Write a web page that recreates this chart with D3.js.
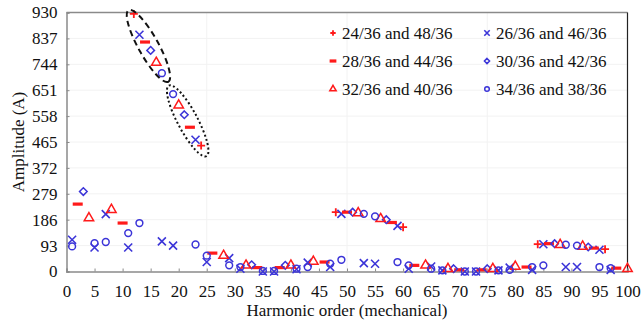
<!DOCTYPE html>
<html>
<head>
<meta charset="utf-8">
<script src="https://cdn.jsdelivr.net/npm/d3@7"></script>
<style>
  body { margin: 0; background: #fff; }
  svg text { font-family: "Liberation Serif", "Times New Roman", Times, "DejaVu Serif", serif; }
</style>
</head>
<body>
<div id="chart"></div>
<script>
// tick values
const yTicks = [0, 93, 186, 279, 372, 465, 558, 651, 744, 837, 930]
const xTicks = d3.range(0, 101, 5)

// [harmonic order, amplitude] for each pair of slot ratios
const s24_48 = [[12, 925], [24, 452], [48, 213], [60, 159], [84, 98], [96, 80]]
const s26_46 = [[1, 114], [5, 86], [7, 206], [11, 86], [13, 850], [17, 108], [19, 93], [23, 473],
  [25, 34], [29, 48], [31, 10], [35, 0], [37, 0], [41, 8], [43, 32], [47, 16], [49, 207],
  [53, 30], [55, 28], [59, 164], [61, 10], [65, 18], [67, 4], [71, 0], [73, 0], [77, 4],
  [79, 14], [83, 6], [85, 98], [89, 16], [91, 16], [95, 78], [97, 6]]
const s28_44 = [[2, 242], [10, 174], [14, 824], [22, 518], [26, 66], [34, 14], [38, 14], [46, 34],
  [50, 213], [58, 176], [62, 22], [70, 6], [74, 6], [82, 16], [86, 100], [94, 84], [98, 12]]
const s30_42 = [[3, 287], [15, 794], [21, 563], [33, 24], [39, 22], [51, 213], [57, 186],
  [69, 10], [75, 10], [87, 100], [93, 88]]
const s32_40 = [[4, 192], [8, 222], [16, 750], [20, 597], [28, 57], [32, 22], [40, 22], [44, 36],
  [52, 210], [56, 189], [64, 22], [68, 10], [76, 10], [80, 18], [88, 96], [92, 90], [100, 10]]
const s34_38 = [[1, 90], [5, 102], [7, 106], [11, 138], [13, 174], [17, 712], [19, 637], [23, 97],
  [25, 57], [29, 22], [31, 16], [35, 2], [37, 2], [41, 10], [43, 16], [47, 28], [49, 42],
  [53, 207], [55, 198], [59, 34], [61, 22], [65, 10], [67, 4], [71, 0], [73, 0], [77, 4],
  [79, 6], [83, 16], [85, 22], [89, 96], [91, 93], [95, 16], [97, 12]]

const RED = '#ff1a1a'
const BLUE = '#3b34d8'
const FONT = '"Liberation Serif", "Times New Roman", Times, "DejaVu Serif", serif'

const series = [
  { name: '24/36 and 48/36', data: s24_48, shape: 'plus', color: RED },
  { name: '26/36 and 46/36', data: s26_46, shape: 'cross', color: BLUE },
  { name: '28/36 and 44/36', data: s28_44, shape: 'dash', color: RED },
  { name: '30/36 and 42/36', data: s30_42, shape: 'diamond', color: BLUE },
  { name: '32/36 and 40/36', data: s32_40, shape: 'triangle', color: RED },
  { name: '34/36 and 38/36', data: s34_38, shape: 'circle', color: BLUE },
]

const W = 641, H = 325
const mLeft = 66.5, mRight = 627.5, mTop = 12.5, mBottom = 271.5

const svg = d3.select('#chart').append('svg')
  .attr('width', W).attr('height', H)
  .attr('font-family', FONT)

const x = d3.scaleLinear().domain([0, 100]).range([mLeft, mRight])
const y = d3.scaleLinear().domain([0, 930]).range([mBottom, mTop])

// faint grid
svg.append('g').selectAll('line').data(yTicks.slice(1, -1)).enter().append('line')
  .attr('x1', mLeft).attr('x2', mRight)
  .attr('y1', d => y(d)).attr('y2', d => y(d))
  .attr('stroke', '#f2f2f2')
svg.append('g').selectAll('line').data([25, 50, 75]).enter().append('line')
  .attr('y1', mTop).attr('y2', mBottom)
  .attr('x1', d => x(d)).attr('x2', d => x(d))
  .attr('stroke', '#f2f2f2')

// frame
svg.append('line').attr('x1', mLeft).attr('x2', mRight).attr('y1', mTop).attr('y2', mTop)
  .attr('stroke', '#8a8a8a').attr('stroke-width', 1.5)
svg.append('line').attr('x1', mRight).attr('x2', mRight).attr('y1', mTop).attr('y2', mBottom)
  .attr('stroke', '#222').attr('stroke-width', 1.2)

// axes
const xAxis = svg.append('g')
  .attr('transform', `translate(0,${mBottom})`)
  .call(d3.axisBottom(x).tickValues(xTicks).tickSize(-3).tickPadding(13))
const yAxis = svg.append('g')
  .attr('transform', `translate(${mLeft},0)`)
  .call(d3.axisLeft(y).tickValues(yTicks).tickSize(-3).tickPadding(9))
;[xAxis, yAxis].forEach((a) => {
  a.attr('font-family', FONT).attr('font-size', 17)
  a.select('.domain').attr('stroke', '#8a8a8a').attr('stroke-width', 1.5)
  a.selectAll('.tick line').attr('stroke', '#8a8a8a')
  a.selectAll('text').attr('fill', '#111')
})

// axis titles
svg.append('text')
  .attr('x', (mLeft + mRight) / 2).attr('y', 316)
  .attr('text-anchor', 'middle').attr('font-size', 17).attr('fill', '#111')
  .text('Harmonic order (mechanical)')
svg.append('text')
  .attr('transform', `translate(24,${(mTop + mBottom) / 2}) rotate(-90)`)
  .attr('text-anchor', 'middle').attr('font-size', 17).attr('fill', '#111')
  .text('Amplitude (A)')

// marker drawing
function drawMarker(g, shape, color, s) {
  if (shape === 'plus') {
    g.append('path').attr('d', `M${-s},0H${s}M0,${-s}V${s}`)
      .attr('stroke', color).attr('stroke-width', 1.8).attr('fill', 'none')
  } else if (shape === 'cross') {
    g.append('path').attr('d', `M${-s},${-s}L${s},${s}M${-s},${s}L${s},${-s}`)
      .attr('stroke', color).attr('stroke-width', 1.6).attr('fill', 'none')
  } else if (shape === 'dash') {
    g.append('rect').attr('x', -s * 1.25).attr('y', -1.6).attr('width', s * 2.5).attr('height', 3.2)
      .attr('fill', color)
  } else if (shape === 'diamond') {
    const r = s * 0.95
    g.append('path').attr('d', `M0,${-r}L${r},0L0,${r}L${-r},0Z`)
      .attr('fill', 'none').attr('stroke', color).attr('stroke-width', 1.5)
  } else if (shape === 'triangle') {
    g.append('path').attr('d', d3.symbol(d3.symbolTriangle, s * s * 2.4)())
      .attr('fill', 'none').attr('stroke', color).attr('stroke-width', 1.5)
  } else {
    g.append('circle').attr('r', s * 0.85)
      .attr('fill', 'none').attr('stroke', color).attr('stroke-width', 1.5)
  }
}

// points
series.forEach((sr) => {
  const g = svg.append('g')
  sr.data.forEach((d) => {
    const m = g.append('g').attr('transform', `translate(${x(d[0])},${y(d[1])})`)
    drawMarker(m, sr.shape, sr.color, 4)
  })
})

// ellipse annotations around the large harmonics
const ellipses = [
  { cx: 14.6, cy: 810, rx: 41, ry: 10, angle: 61, dash: '6,4' },
  { cx: 21.6, cy: 541, rx: 40, ry: 10, angle: 62, dash: '2,2.5' },
]
svg.append('g').selectAll('ellipse').data(ellipses).enter().append('ellipse')
  .attr('transform', d => `translate(${x(d.cx)},${y(d.cy)}) rotate(${d.angle})`)
  .attr('rx', d => d.rx).attr('ry', d => d.ry)
  .attr('fill', 'none').attr('stroke', '#111').attr('stroke-width', 2)
  .attr('stroke-dasharray', d => d.dash)

// legend, two columns
const legendCols = [333, 487]
const legendRows = [33, 61, 89]
const legendOrder = [0, 2, 4, 1, 3, 5]
legendOrder.forEach((si, i) => {
  const sr = series[si]
  const col = Math.floor(i / 3), row = i % 3
  const g = svg.append('g')
    .attr('transform', `translate(${legendCols[col]},${legendRows[row]})`)
  drawMarker(g, sr.shape, sr.color, 2.7)
  g.append('text').attr('x', 9).attr('y', 0).attr('dy', '0.33em')
    .attr('font-size', 17).attr('fill', '#111')
    .text(sr.name)
})
</script>
</body>
</html>
